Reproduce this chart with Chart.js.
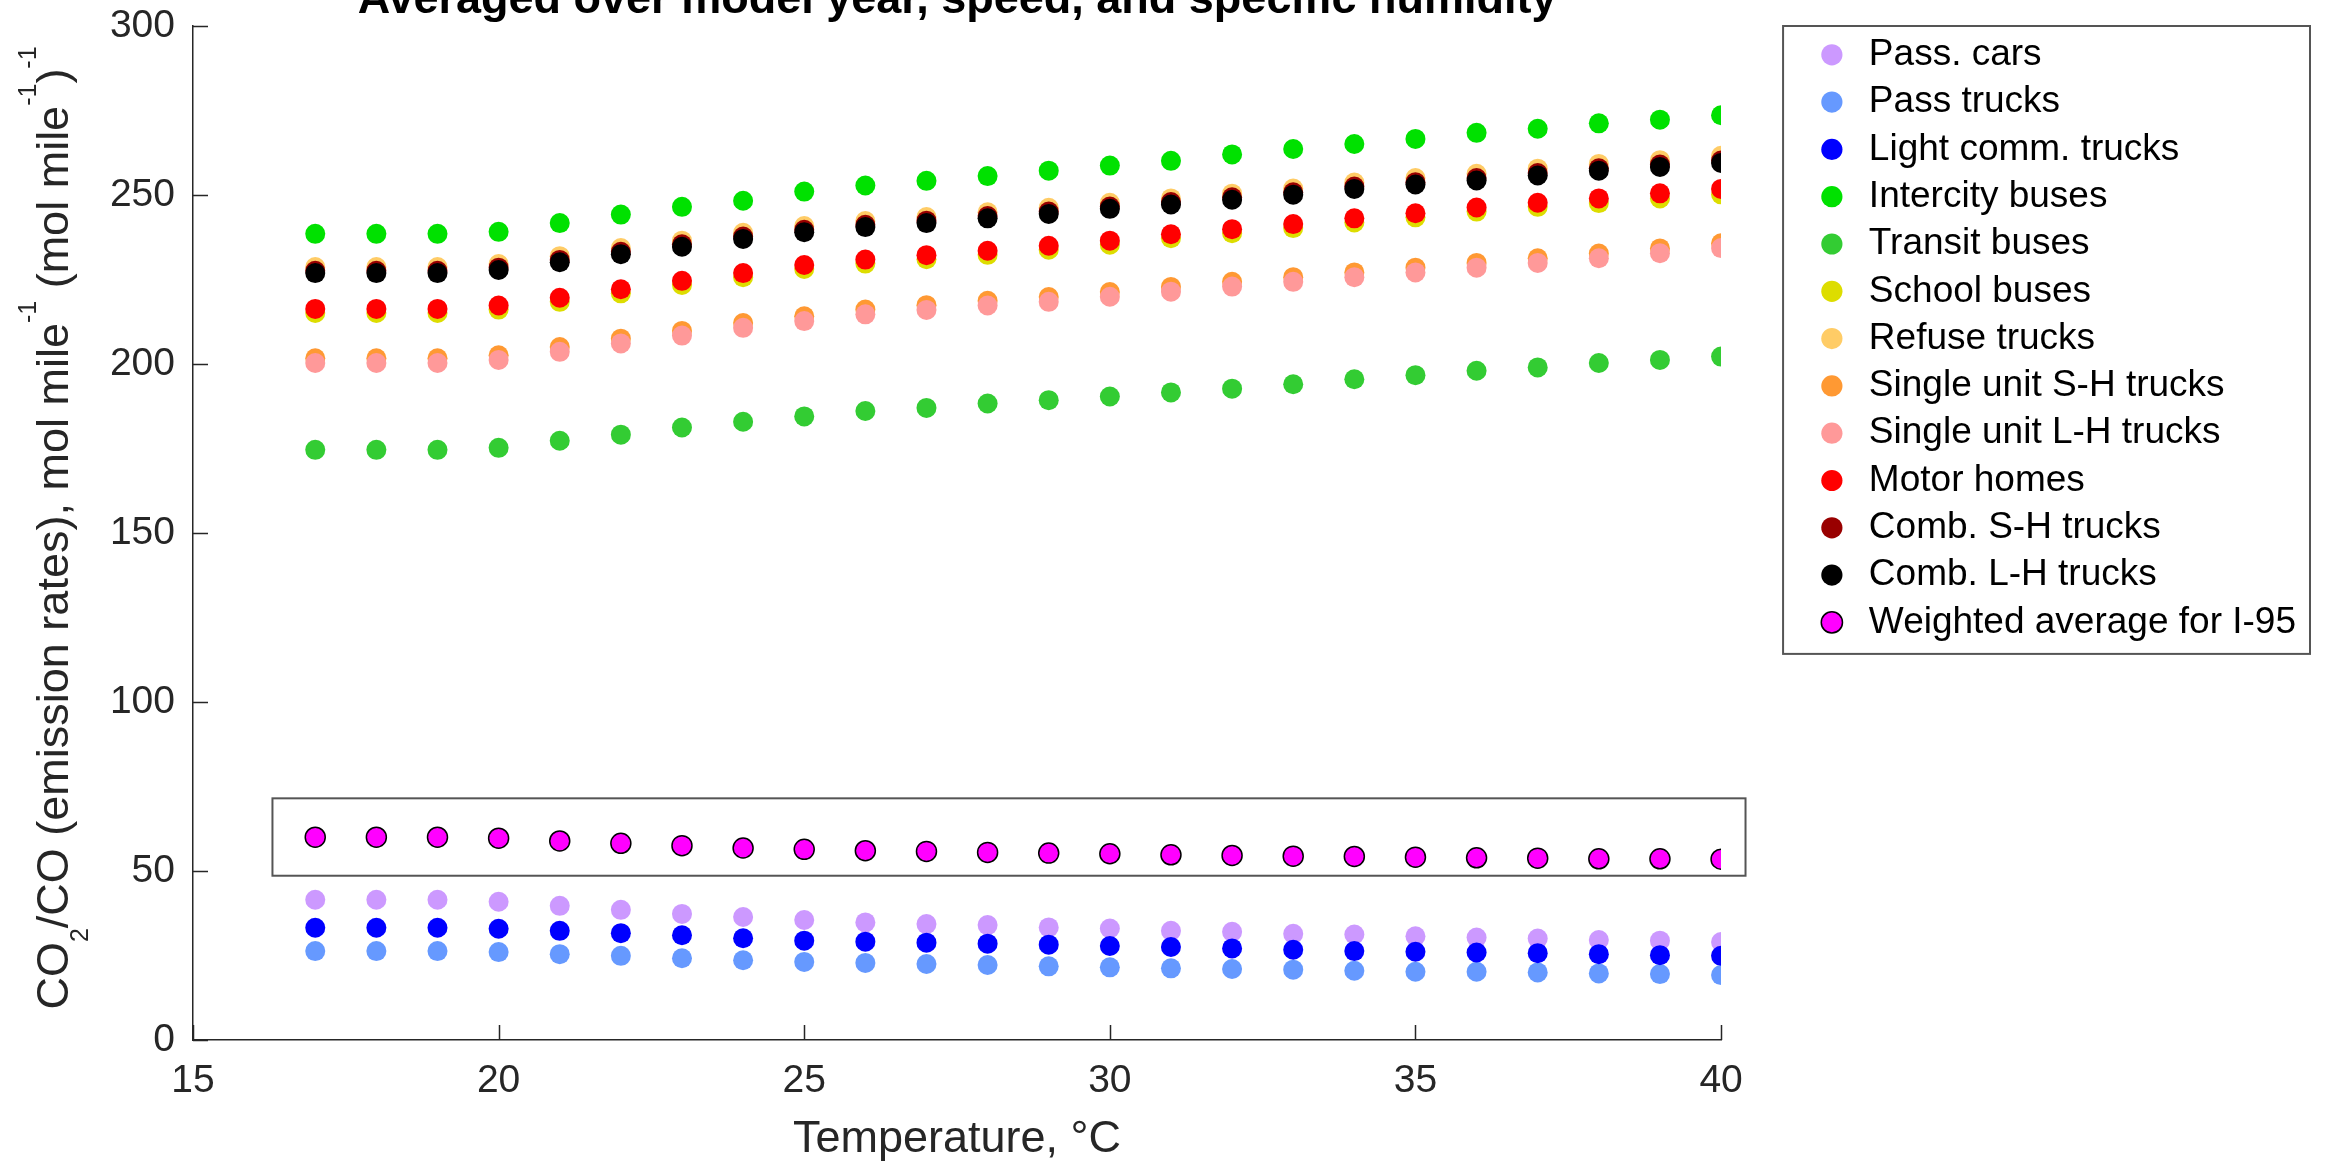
<!DOCTYPE html>
<html>
<head>
<meta charset="utf-8">
<title>CO2/CO emission rates vs temperature</title>
<script src="https://cdn.jsdelivr.net/npm/chart.js@4.4.0/dist/chart.umd.min.js"></script>
<style>
  html, body { margin: 0; padding: 0; background: #fff; }
  #wrap { width: 2331px; height: 1175px; }
</style>
</head>
<body>
<div id="wrap"><canvas id="chartCanvas" width="2331" height="1175"></canvas></div>
<script>
// --- data ---
const temps = [17, 18, 19, 20, 21, 22, 23, 24, 25, 26, 27, 28, 29, 30, 31, 32, 33, 34, 35, 36, 37, 38, 39, 40];

const passCars     = [41.5, 41.5, 41.5, 40.9, 39.7, 38.5, 37.3, 36.4, 35.5, 34.8, 34.3, 34.0, 33.3, 33.0, 32.3, 32.0, 31.4, 31.2, 30.7, 30.3, 30.0, 29.6, 29.4, 29.0];
const passTrucks   = [26.3, 26.3, 26.3, 26.0, 25.4, 24.9, 24.2, 23.6, 23.1, 22.8, 22.5, 22.2, 21.8, 21.5, 21.2, 21.0, 20.8, 20.5, 20.2, 20.2, 20.0, 19.7, 19.5, 19.2];
const lightComm    = [33.2, 33.2, 33.2, 32.9, 32.3, 31.6, 31.0, 30.1, 29.4, 29.1, 28.8, 28.5, 28.2, 27.8, 27.5, 27.1, 26.7, 26.3, 26.1, 25.9, 25.7, 25.4, 25.1, 24.9];
const intercity    = [238.5, 238.5, 238.5, 239.1, 241.7, 244.2, 246.5, 248.3, 251.0, 252.8, 254.2, 255.6, 257.2, 258.7, 260.1, 262.0, 263.6, 265.1, 266.6, 268.4, 269.6, 271.2, 272.3, 273.6];
const transit      = [174.6, 174.6, 174.6, 175.2, 177.3, 179.1, 181.2, 182.9, 184.5, 186.1, 187.0, 188.3, 189.3, 190.4, 191.6, 192.7, 194.0, 195.5, 196.7, 198.0, 199.0, 200.3, 201.2, 202.2];
const schoolBuses  = [215.1, 215.1, 215.1, 216.1, 218.4, 220.9, 223.4, 225.7, 228.1, 229.7, 231.0, 232.3, 233.8, 235.3, 237.2, 238.7, 240.2, 241.9, 243.4, 245.1, 246.5, 247.6, 249.0, 250.2];
const refuse       = [228.7, 228.7, 228.7, 229.6, 231.9, 234.3, 236.5, 238.8, 240.8, 242.3, 243.5, 244.9, 246.2, 247.7, 249.0, 250.4, 251.9, 253.7, 255.0, 256.3, 257.8, 259.2, 260.3, 261.6];
const singleSH     = [201.7, 201.7, 201.7, 202.6, 205.0, 207.5, 209.8, 212.1, 214.1, 216.1, 217.4, 218.7, 219.8, 221.3, 222.8, 224.3, 225.7, 227.1, 228.5, 229.9, 231.3, 232.7, 234.2, 235.7];
const singleLH     = [200.3, 200.3, 200.3, 201.2, 203.6, 206.1, 208.4, 210.7, 212.7, 214.7, 216.0, 217.3, 218.4, 219.9, 221.4, 222.9, 224.3, 225.7, 227.1, 228.5, 229.9, 231.3, 232.8, 234.3];
const motorHomes   = [216.3, 216.3, 216.3, 217.3, 219.6, 222.1, 224.6, 226.9, 229.3, 230.9, 232.2, 233.5, 235.0, 236.5, 238.4, 239.9, 241.4, 243.1, 244.6, 246.3, 247.7, 249.0, 250.5, 251.8];
const combSH       = [227.6, 227.6, 227.6, 228.5, 230.8, 233.2, 235.4, 237.7, 239.7, 241.2, 242.4, 243.8, 245.1, 246.6, 247.9, 249.3, 250.8, 252.5, 253.8, 255.0, 256.5, 257.9, 259.0, 260.2];
const combLH       = [226.9, 226.9, 226.9, 227.8, 230.1, 232.5, 234.7, 237.0, 239.0, 240.5, 241.7, 243.1, 244.4, 245.9, 247.2, 248.6, 250.1, 251.8, 253.1, 254.3, 255.8, 257.2, 258.3, 259.5];
const weightedI95  = [60.0, 60.0, 60.0, 59.7, 58.9, 58.2, 57.5, 56.8, 56.4, 56.0, 55.8, 55.5, 55.3, 55.1, 54.8, 54.6, 54.4, 54.3, 54.1, 53.9, 53.8, 53.6, 53.6, 53.5];

const seriesNames = [
  "Pass. cars", "Pass trucks", "Light comm. trucks", "Intercity buses", "Transit buses",
  "School buses", "Refuse trucks", "Single unit S-H trucks", "Single unit L-H trucks",
  "Motor homes", "Comb. S-H trucks", "Comb. L-H trucks", "Weighted average for I-95"
];
const seriesValues = [
  passCars, passTrucks, lightComm, intercity, transit, schoolBuses, refuse,
  singleSH, singleLH, motorHomes, combSH, combLH, weightedI95
];
const seriesColors = [
  "#cc99ff", "#6699ff", "#0000ff", "#00e100", "#33cc33", "#dddd00", "#ffcc66",
  "#ff9933", "#ff9999", "#ff0000", "#990000", "#000000", "#ff00ff"
];

const xTicks = { min: 15, max: 40, step: 5 };
const yTicks = { min: 0, max: 300, step: 50 };

// box drawn around the weighted-average series (data units)
const highlightBox = { x0: 16.3, x1: 40.4, y0: 48.6, y1: 71.5 };

const chartTitle = "Averaged over model year, speed, and specific humidity";
const xTitle = "Temperature, \u00b0C";
// y title pieces: shift 0 = normal, -1 = subscript, 1 = superscript
const yTitleParts = [
  ["CO", 0], ["2", -1], ["/CO (emission rates), mol mile", 0], ["-1", 1],
  [" (mol mile", 0], ["-1", 1], [")", 0], ["-1", 1]
];

const FONT = "'Liberation Sans', Arial, Helvetica, sans-serif";
const AXIS_COLOR = "#262626";
Chart.defaults.font.family = FONT;

// --- datasets: later series drawn on top, like the original ---
const last = seriesNames.length - 1;
const datasets = seriesNames.map((name, i) => ({
  label: name,
  data: temps.map((t, j) => ({ x: t, y: seriesValues[i][j] })),
  backgroundColor: seriesColors[i],
  borderColor: i === last ? "#000000" : seriesColors[i],
  borderWidth: i === last ? 1.5 : 0,
  pointRadius: 10,
  pointHoverRadius: 10,
  order: last - i
}));

// --- extra drawing: title, y title, inward ticks, boxes ---
const decorations = {
  id: "decorations",
  afterDraw(chart) {
    const ctx = chart.ctx;
    const xs = chart.scales.x;
    const ys = chart.scales.y;
    const area = chart.chartArea;

    ctx.save();

    // inward tick marks
    ctx.strokeStyle = AXIS_COLOR;
    ctx.lineWidth = 1.5;
    ctx.beginPath();
    ys.ticks.forEach(t => {
      const py = Math.round(ys.getPixelForValue(t.value)) + 0.5;
      ctx.moveTo(area.left, py);
      ctx.lineTo(area.left + 15, py);
    });
    xs.ticks.forEach(t => {
      const px = Math.round(xs.getPixelForValue(t.value)) + 0.5;
      ctx.moveTo(px, area.bottom);
      ctx.lineTo(px, area.bottom - 15);
    });
    ctx.stroke();

    // box around weighted average
    const bx0 = xs.getPixelForValue(highlightBox.x0);
    const bx1 = xs.getPixelForValue(highlightBox.x1);
    const by0 = ys.getPixelForValue(highlightBox.y1);
    const by1 = ys.getPixelForValue(highlightBox.y0);
    ctx.strokeStyle = "#555555";
    ctx.lineWidth = 2;
    ctx.strokeRect(bx0, by0, bx1 - bx0, by1 - by0);

    // legend frame
    const lg = chart.legend;
    const hits = lg.legendHitBoxes;
    const lastHit = hits[hits.length - 1];
    ctx.strokeRect(lg.left - 20, lg.top, lg.right + 4 - (lg.left - 20), lastHit.top + lastHit.height + 13 - lg.top);

    // chart title (clipped at the top, as in the original)
    ctx.fillStyle = "#000000";
    ctx.font = "bold 45px " + FONT;
    ctx.textAlign = "center";
    ctx.textBaseline = "alphabetic";
    ctx.fillText(chartTitle, (area.left + area.right) / 2, 13);

    // y axis title with sub/superscripts
    ctx.translate(68, 528);
    ctx.rotate(-Math.PI / 2);
    ctx.fillStyle = AXIS_COLOR;
    ctx.textAlign = "left";
    const fontFor = s => (s === 0 ? "45px " : "25px ") + FONT;
    let total = 0;
    yTitleParts.forEach(([txt, s]) => {
      ctx.font = fontFor(s);
      total += ctx.measureText(txt).width;
    });
    let cx = -total / 2;
    yTitleParts.forEach(([txt, s]) => {
      ctx.font = fontFor(s);
      const dy = s === -1 ? 20 : s === 1 ? -32 : 0;
      ctx.fillText(txt, cx, dy);
      cx += ctx.measureText(txt).width;
    });

    ctx.restore();
  }
};

const canvas = document.getElementById("chartCanvas");

new Chart(canvas, {
  type: "scatter",
  data: { datasets },
  plugins: [decorations],
  options: {
    responsive: false,
    animation: false,
    events: [],
    layout: { padding: { top: 26, right: 25, bottom: 0, left: 0 } },
    plugins: {
      title: { display: false },
      tooltip: { enabled: false },
      legend: {
        position: "right",
        align: "start",
        maxWidth: 640,
        labels: {
          usePointStyle: true,
          pointStyle: "circle",
          boxWidth: 37,
          boxHeight: 15,
          padding: 10.3,
          color: "#000000",
          font: { size: 37 },
          sort: (a, b) => a.datasetIndex - b.datasetIndex
        }
      }
    },
    scales: {
      x: {
        type: "linear",
        min: xTicks.min,
        max: xTicks.max,
        grid: { display: false, drawTicks: false },
        border: { display: true, color: AXIS_COLOR, width: 1.5 },
        ticks: {
          stepSize: xTicks.step,
          autoSkip: false,
          maxRotation: 0,
          padding: 18,
          color: AXIS_COLOR,
          font: { size: 39 }
        },
        title: {
          display: true,
          text: xTitle,
          color: AXIS_COLOR,
          font: { size: 45 },
          padding: { top: 0, bottom: 8 }
        },
        afterFit: s => { s.height = 135; }
      },
      y: {
        type: "linear",
        min: yTicks.min,
        max: yTicks.max,
        grid: { display: false, drawTicks: false },
        border: { display: true, color: AXIS_COLOR, width: 1.5 },
        ticks: {
          stepSize: yTicks.step,
          padding: 18,
          color: AXIS_COLOR,
          font: { size: 39 }
        },
        afterFit: s => { s.width = 193; s.paddingTop = 20; s.paddingBottom = 20; }
      },
      // empty spacer between plot and legend
      gap: {
        type: "linear",
        position: "right",
        axis: "y",
        grid: { display: false, drawTicks: false },
        border: { display: false },
        ticks: { display: false },
        afterFit: s => { s.width = 82; s.paddingTop = 0; s.paddingBottom = 0; }
      }
    }
  }
});
</script>
</body>
</html>
